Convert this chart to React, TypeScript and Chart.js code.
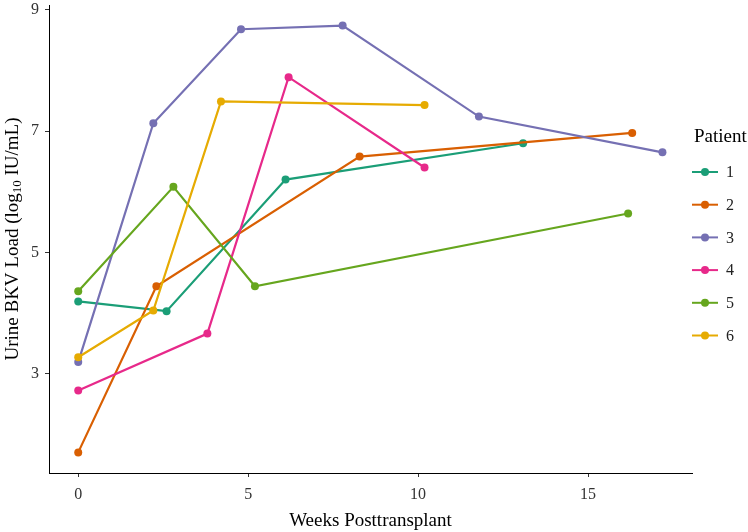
import React, { useEffect, useRef } from "react";
import { Chart, registerables } from "chart.js";

Chart.register(...registerables);

const patients = ["1", "2", "3", "4", "5", "6"];
const colors = ["#1B9E77", "#D95F02", "#7570B3", "#E7298A", "#66A61E", "#E6AB02"];

const p1Weeks = [0, 2.6, 6.1, 13.09];
const p1Load = [4.19, 4.03, 6.2, 6.8];
const p2Weeks = [0, 2.3, 8.28, 16.3];
const p2Load = [1.7, 4.44, 6.58, 6.97];
const p3Weeks = [0, 2.21, 4.79, 7.78, 11.79, 17.19];
const p3Load = [3.19, 7.13, 8.68, 8.74, 7.24, 6.65];
const p4Weeks = [0, 3.8, 6.19, 10.19];
const p4Load = [2.72, 3.66, 7.89, 6.4];
const p5Weeks = [0, 2.8, 5.2, 16.18];
const p5Load = [4.36, 6.08, 4.44, 5.64];
const p6Weeks = [0, 2.21, 4.2, 10.19];
const p6Load = [3.27, 4.04, 7.49, 7.43];

const weeksByPatient = [p1Weeks, p2Weeks, p3Weeks, p4Weeks, p5Weeks, p6Weeks];
const loadByPatient = [p1Load, p2Load, p3Load, p4Load, p5Load, p6Load];

const xTicks = [0, 5, 10, 15];
const yTicks = [3, 5, 7, 9];

const xTitle = "Weeks Posttransplant";
const yTitleA = "Urine BKV Load (log";
const yTitleSub = "10";
const yTitleB = " IU/mL)";
const legendTitle = "Patient";

const FONT = '"Liberation Serif", "DejaVu Serif", serif';

const annotPlugin = {
  id: "annot",
  afterDraw(chart: any) {
    const ctx = chart.ctx as CanvasRenderingContext2D;
    const a = chart.chartArea;
    ctx.save();
    // x title
    ctx.fillStyle = "#000";
    ctx.font = `19px ${FONT}`;
    ctx.textAlign = "center";
    ctx.textBaseline = "middle";
    ctx.fillText(xTitle, (a.left + a.right) / 2, 521);

    // y title rotated with subscript
    ctx.save();
    ctx.translate(13, (a.top + a.bottom) / 2);
    ctx.rotate(-Math.PI / 2);
    ctx.textAlign = "left";
    ctx.textBaseline = "middle";
    ctx.font = `19px ${FONT}`;
    const wA = ctx.measureText(yTitleA).width;
    const wB = ctx.measureText(yTitleB).width;
    ctx.font = `13px ${FONT}`;
    const wS = ctx.measureText(yTitleSub).width;
    const total = wA + wS + wB;
    let x0 = -total / 2;
    ctx.font = `19px ${FONT}`;
    ctx.fillText(yTitleA, x0, 0);
    x0 += wA;
    ctx.font = `13px ${FONT}`;
    ctx.fillText(yTitleSub, x0, 5);
    x0 += wS;
    ctx.font = `19px ${FONT}`;
    ctx.fillText(yTitleB, x0, 0);
    ctx.restore();

    // legend
    ctx.textAlign = "left";
    ctx.textBaseline = "middle";
    ctx.font = `19px ${FONT}`;
    ctx.fillStyle = "#000";
    ctx.fillText(legendTitle, 694, 137);
    ctx.font = `16px ${FONT}`;
    patients.forEach((p, i) => {
      const y = 172 + i * 32.7;
      ctx.strokeStyle = colors[i];
      ctx.lineWidth = 2;
      ctx.beginPath();
      ctx.moveTo(692, y);
      ctx.lineTo(718, y);
      ctx.stroke();
      ctx.fillStyle = colors[i];
      ctx.beginPath();
      ctx.arc(705, y, 4, 0, Math.PI * 2);
      ctx.fill();
      ctx.fillStyle = "#222";
      ctx.fillText(p, 726, y + 1);
    });
    ctx.restore();
  },
};

export default function App() {
  const ref = useRef<HTMLCanvasElement | null>(null);
  useEffect(() => {
    if (!ref.current) return;
    const datasets = patients.map((p, i) => ({
      label: p,
      data: weeksByPatient[i].map((w, j) => ({ x: w, y: loadByPatient[i][j] })),
      borderColor: colors[i],
      backgroundColor: colors[i],
      borderWidth: 2.2,
      pointRadius: 4,
      pointBorderWidth: 0,
      pointBackgroundColor: colors[i],
      showLine: true,
      tension: 0,
      order: -i,
    }));
    const chart = new Chart(ref.current, {
      type: "scatter",
      data: { datasets },
      options: {
        animation: false,
        responsive: false,
        maintainAspectRatio: false,
        layout: { padding: { left: 0, right: 56, top: 5, bottom: 0 } },
        plugins: { legend: { display: false }, tooltip: { enabled: false } },
        scales: {
          x: {
            type: "linear",
            min: -0.86,
            max: 18.06,
            afterBuildTicks: (s: any) => {
              s.ticks = xTicks.map((v) => ({ value: v }));
            },
            afterFit: (s: any) => {
              s.height = 59;
              s.paddingLeft = 0;
              s.paddingRight = 0;
            },
            grid: { display: true, drawOnChartArea: false, drawTicks: true, tickLength: 4, color: "#333" },
            border: { display: true, color: "#000", width: 1 },
            ticks: {
              color: "#333",
              font: { family: FONT, size: 16 },
              padding: 8,
              maxRotation: 0,
              callback: (v: any) => String(v),
            },
          },
          y: {
            type: "linear",
            min: 1.36,
            max: 9.08,
            afterBuildTicks: (s: any) => {
              s.ticks = yTicks.map((v) => ({ value: v }));
            },
            afterFit: (s: any) => {
              s.width = 49;
              s.paddingTop = 0;
              s.paddingBottom = 0;
            },
            grid: { display: true, drawOnChartArea: false, drawTicks: true, tickLength: 4, color: "#333" },
            border: { display: true, color: "#000", width: 1 },
            ticks: {
              color: "#333",
              font: { family: FONT, size: 16 },
              padding: 6,
              callback: (v: any) => String(v),
            },
          },
        },
      },
      plugins: [annotPlugin],
    });
    return () => chart.destroy();
  }, []);
  return (
    <div style={{ position: "fixed", left: 0, top: 0, width: 748, height: 532, background: "#fff" }}>
      <canvas ref={ref} width={748} height={532} style={{ display: "block" }} />
    </div>
  );
}
